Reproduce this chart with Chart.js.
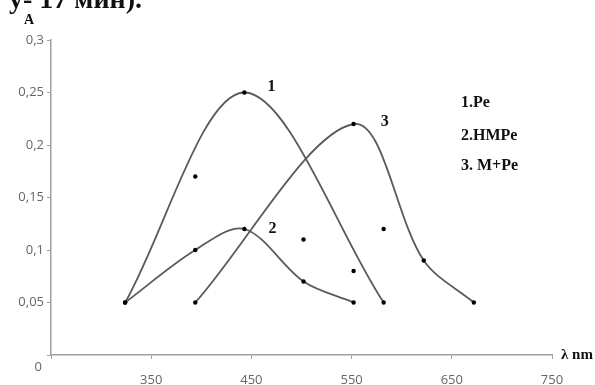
<!DOCTYPE html>
<html>
<head>
<meta charset="utf-8">
<script src="https://cdn.jsdelivr.net/npm/chart.js@4"></script>
<style>
    html, body { margin: 0; padding: 0; background: #fff; }
    #wrap { width: 595px; height: 385px; position: relative; }
</style>
</head>
<body>
<div id="wrap"><canvas id="spectraChart" width="595" height="385"></canvas></div>
<script>
// Curve 1 (Pe)
const curve1X = [324, 443, 582];
const curve1Y = [0.05, 0.25, 0.05];
// Curve 2 (HMPe)
const curve2X = [324, 394, 443, 502, 552];
const curve2Y = [0.05, 0.10, 0.12, 0.07, 0.05];
// Curve 3 (M+Pe)
const curve3X = [394, 552, 622, 672];
const curve3Y = [0.05, 0.22, 0.09, 0.05];
// loose points without line
const looseX = [394, 502, 552, 582];
const looseY = [0.17, 0.11, 0.08, 0.12];

const legendLines = ['1.Pe', '2.HMPe', '3. M+Pe'];
const curveNames = ['1', '2', '3'];
const curveNameX = [470, 471, 583];
const curveNameY = [0.255, 0.12, 0.222];

const titleText = 'у- 17 мин).';

function toPoints(xs, ys) {
    return xs.map((x, i) => ({ x: x, y: ys[i] }));
}

function lineSet(xs, ys) {
    return {
        data: toPoints(xs, ys),
        showLine: true,
        borderColor: '#5a5a5a',
        borderWidth: 1.8,
        tension: 0.33,
        pointRadius: 2.2,
        pointBackgroundColor: '#000',
        pointBorderWidth: 0
    };
}

const textPlugin = {
    id: 'textPlugin',
    afterDraw(chart) {
        const ctx = chart.ctx;
        const xs = chart.scales.x;
        const ys = chart.scales.y;
        ctx.save();
        ctx.fillStyle = '#111';

        // clipped heading from the page above
        ctx.font = 'bold 28px "Liberation Serif"';
        ctx.textAlign = 'left';
        ctx.textBaseline = 'alphabetic';
        ctx.fillText(titleText, 9, 8);

        // axis titles
        ctx.font = 'bold 14px "Liberation Serif"';
        ctx.textAlign = 'center';
        ctx.textBaseline = 'middle';
        ctx.fillText('A', 29, 20);
        ctx.textAlign = 'left';
        ctx.font = 'bold 15px "Liberation Serif"';
        ctx.fillText('λ nm', 561, ys.getPixelForValue(0));

        // zero label sits below the axis
        ctx.fillStyle = '#666';
        ctx.font = '13px "Open Sans"';
        ctx.textAlign = 'right';
        ctx.fillText('0', 42, ys.getPixelForValue(0) + 12);

        // curve numbers
        ctx.fillStyle = '#111';
        ctx.font = 'bold 16px "Liberation Serif"';
        ctx.textAlign = 'center';
        curveNames.forEach((t, i) => {
            ctx.fillText(t, xs.getPixelForValue(curveNameX[i]), ys.getPixelForValue(curveNameY[i]));
        });

        // legend block
        ctx.font = 'bold 16px "Liberation Serif"';
        ctx.textAlign = 'left';
        const legendTop = [103, 136, 166];
        legendLines.forEach((t, i) => {
            ctx.fillText(t, 461, legendTop[i]);
        });
        ctx.restore();
    }
};

const datasets = [
    lineSet(curve1X, curve1Y),
    lineSet(curve2X, curve2Y),
    lineSet(curve3X, curve3Y),
    {
        data: toPoints(looseX, looseY),
        showLine: false,
        pointRadius: 2.2,
        pointBackgroundColor: '#000',
        pointBorderWidth: 0
    }
];

new Chart(document.getElementById('spectraChart').getContext('2d'), {
    type: 'scatter',
    data: { datasets: datasets },
    options: {
        responsive: false,
        animation: false,
        layout: { padding: { top: 40, right: 43, left: 0, bottom: 0 } },
        plugins: { legend: { display: false }, tooltip: { enabled: false } },
        scales: {
            x: {
                type: 'linear',
                min: 250,
                max: 750,
                ticks: {
                    stepSize: 100,
                    padding: 13,
                    color: '#666',
                    font: { family: 'Open Sans', size: 13 },
                    callback: v => (v === 250 ? '' : v)
                },
                grid: { drawOnChartArea: false, drawTicks: true, tickLength: 4, color: '#a0a0a0' },
                border: { color: '#a0a0a0', width: 1.5 },
                afterFit: s => { s.height = 30; }
            },
            y: {
                min: 0,
                max: 0.3,
                ticks: {
                    stepSize: 0.05,
                    padding: 3,
                    color: '#666',
                    font: { family: 'Open Sans', size: 13 },
                    callback: v => (v === 0 ? '' : parseFloat(v.toFixed(2)).toString().replace('.', ','))
                },
                grid: { drawOnChartArea: false, drawTicks: true, tickLength: 4, color: '#a0a0a0' },
                border: { color: '#a0a0a0', width: 1.5 },
                afterFit: s => { s.width = 51; }
            }
        }
    },
    plugins: [textPlugin]
});
</script>
</body>
</html>
